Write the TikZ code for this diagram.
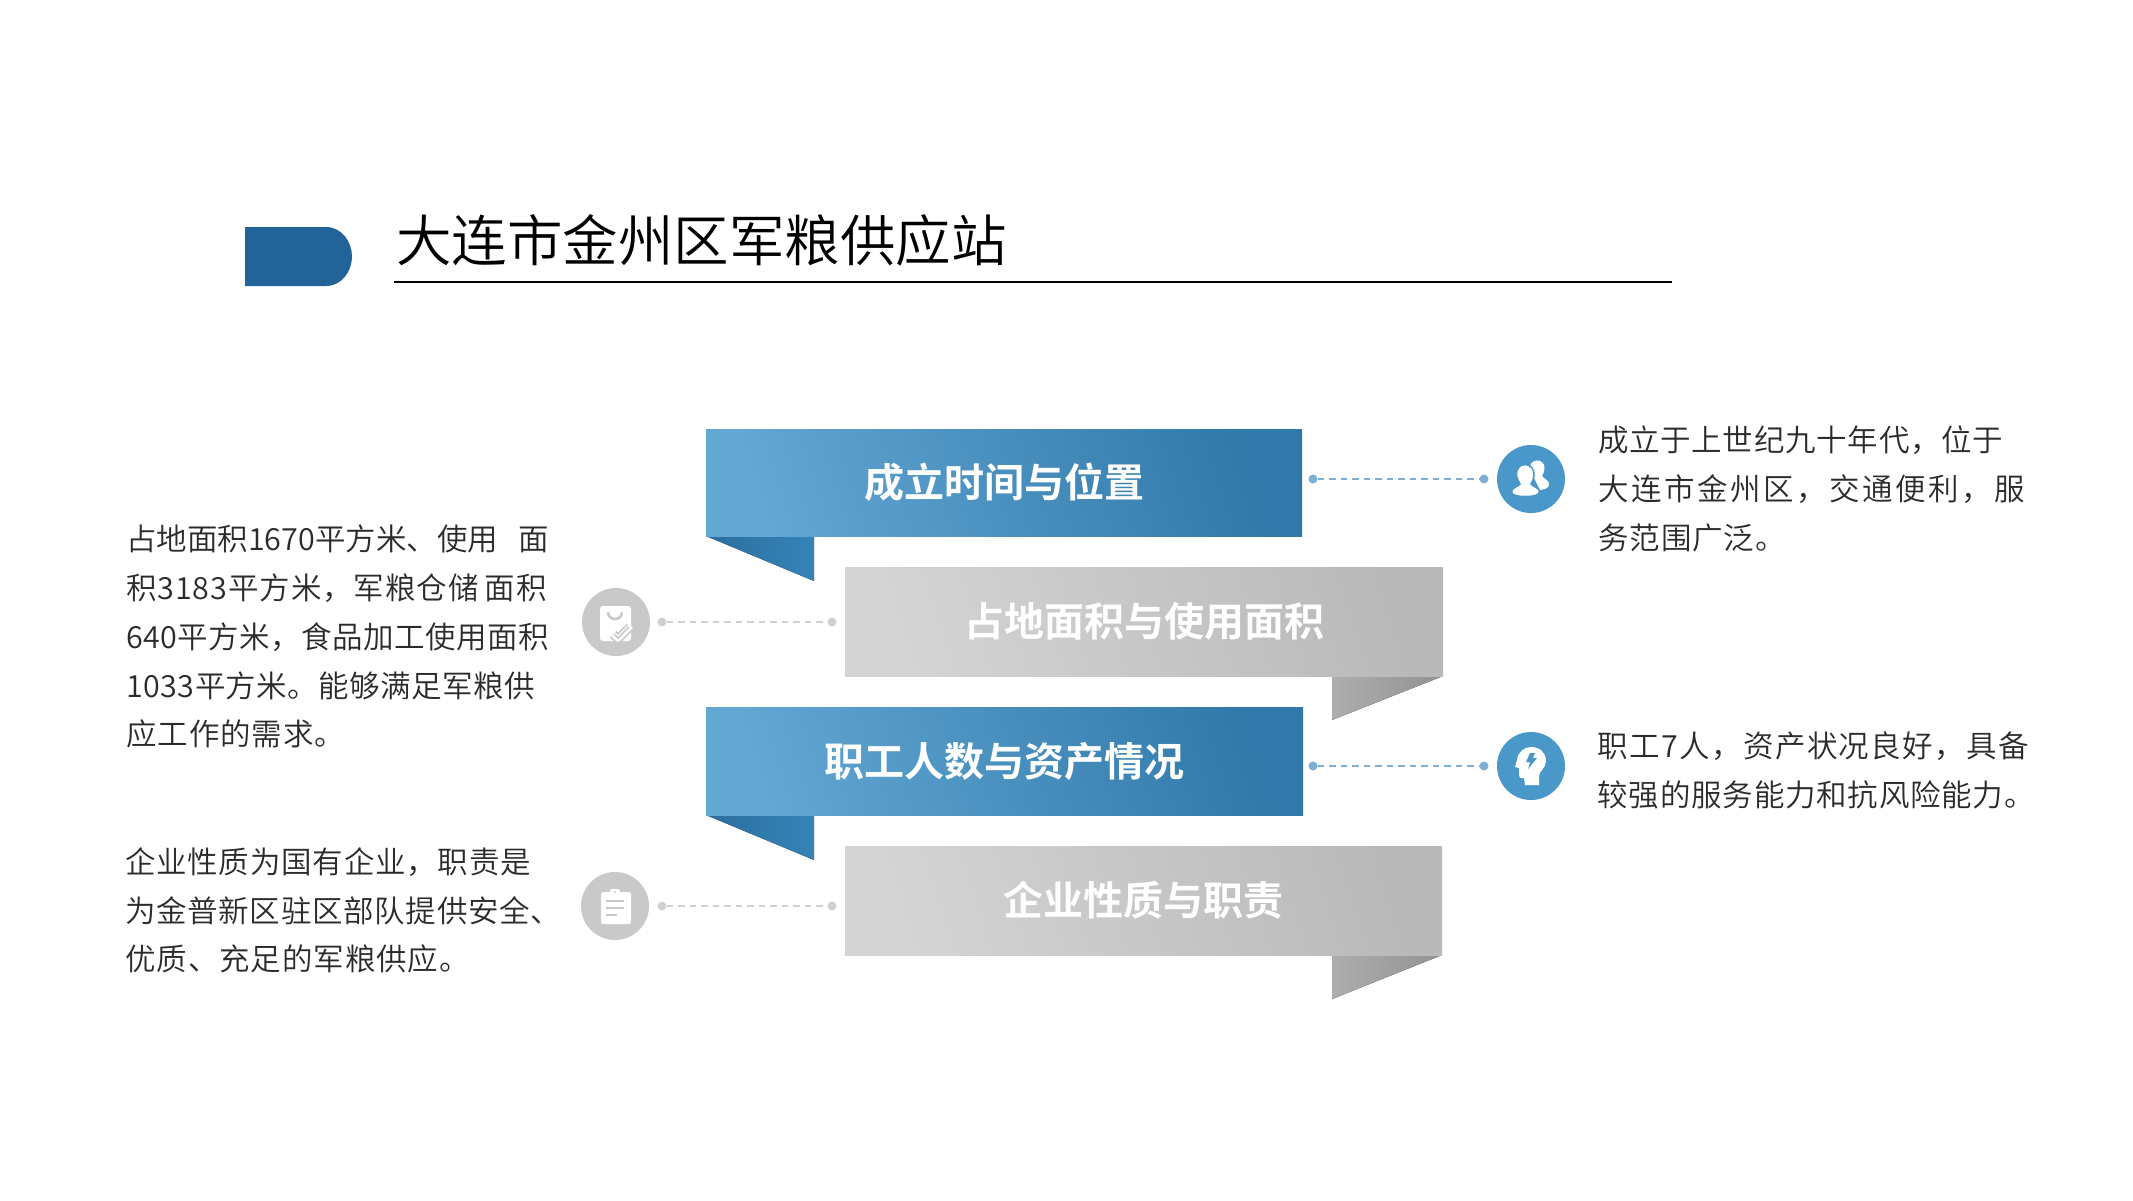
\documentclass[tikz,border=0pt]{standalone}
\usepackage{fontspec}
\newfontfamily\cjk{Noto Sans CJK SC DemiLight}
\newfontfamily\cjkb{Noto Sans CJK SC Bold}
\newcommand\lsp[2]{{\addfontfeature{LetterSpace=#1}#2}}
\definecolor{inkc}{HTML}{2B2B2B}
\definecolor{pillc}{HTML}{22639A}
\definecolor{blueL}{HTML}{63A7D3}
\definecolor{blueR}{HTML}{3079AA}
\definecolor{tailbL}{HTML}{2B6F9F}
\definecolor{tailbR}{HTML}{3683B7}
\definecolor{grayL}{HTML}{D4D4D4}
\definecolor{grayR}{HTML}{B9B9B9}
\definecolor{tailgL}{HTML}{AEAEAE}
\definecolor{tailgR}{HTML}{929292}
\definecolor{circB}{HTML}{4A97C9}
\definecolor{dotB}{HTML}{7CAFD3}
\definecolor{circG}{HTML}{C9C9C9}
\definecolor{dotG}{HTML}{D0D0D0}
\tikzset{
  x=1pt,y=-1pt,
  bodytext/.style={inner sep=0pt,anchor=north west,align=left,text=inkc,font=\fontsize{30.5}{48.7}\selectfont\cjk},
  ribbonblue/.style={inner sep=0pt,text=white,font=\fontsize{40}{48}\selectfont\cjkb,left color=blueL,right color=blueR,shading angle=108},
  ribbongray/.style={inner sep=0pt,text=white,font=\fontsize{40}{48}\selectfont\cjkb,left color=grayL,right color=grayR,shading angle=108},
  tailblue/.style={left color=tailbL,right color=tailbR},
  tailgray/.style={left color=tailgL,right color=tailgR},
  dotblue/.style={circle,inner sep=0pt,minimum size=9pt,fill=dotB},
  dotgray/.style={circle,inner sep=0pt,minimum size=9pt,fill=dotG},
  linkblue/.style={draw=dotB,line width=1.6pt,dash pattern=on 6.5pt off 5pt},
  linkgray/.style={draw=dotG,line width=1.6pt,dash pattern=on 6.5pt off 5pt},
  iconblue/.style={circle,inner sep=0pt,minimum size=68pt,fill=circB},
  icongray/.style={circle,inner sep=0pt,minimum size=68pt,fill=circG},
}
\begin{document}
\begin{tikzpicture}
\useasboundingbox (0,0) rectangle (2133,1200);
\fill[white] (0,0) rectangle (2133,1200);
% title
\fill[pillc] (245,227) -- (326,227) .. controls (342,227) and (352,242) .. (352,256.5) .. controls (352,271) and (342,286) .. (326,286) -- (245,286) -- cycle;
\node[inner sep=0pt,anchor=west,text=black,font=\fontsize{55.5}{66}\selectfont\cjk] (title) at (396,240) {大连市金州区军粮供应站};
\coordinate (ruleA) at (394,282);
\coordinate (ruleB) at (1672,282);
\draw[black,line width=1.7pt] (ruleA) -- (ruleB);
% tails
\fill[tailblue] (706,536) -- (814,536) -- (814,581) -- cycle;
\fill[tailgray] (1332,676) -- (1443,676) -- (1332,720) -- cycle;
\fill[tailblue] (706,815) -- (814,815) -- (814,860) -- cycle;
\fill[tailgray] (1332,955) -- (1442,955) -- (1332,999) -- cycle;
% ribbons
\node[ribbonblue,minimum width=596pt,minimum height=107pt] (r1) at (1004,482.5) {\raisebox{1pt}{成立时间与位置}};
\node[ribbongray,minimum width=598pt,minimum height=109pt] (r2) at (1144,621.5) {\raisebox{1pt}{占地面积与使用面积}};
\node[ribbonblue,minimum width=597pt,minimum height=108pt] (r3) at (1004.5,761) {\raisebox{1pt}{职工人数与资产情况}};
\node[ribbongray,minimum width=597pt,minimum height=109pt] (r4) at (1143.5,900.5) {\raisebox{1pt}{企业性质与职责}};
% dots and links
\node[dotblue] (d1a) at (1313,479) {};
\node[dotblue] (d1b) at (1484,479) {};
\draw[linkblue] (d1a) -- (d1b);
\node[dotgray] (d2a) at (662,622) {};
\node[dotgray] (d2b) at (832,622) {};
\draw[linkgray] (d2a) -- (d2b);
\node[dotblue] (d3a) at (1313,766) {};
\node[dotblue] (d3b) at (1484,766) {};
\draw[linkblue] (d3a) -- (d3b);
\node[dotgray] (d4a) at (662,906) {};
\node[dotgray] (d4b) at (832,906) {};
\draw[linkgray] (d4a) -- (d4b);
% icon circles
\node[iconblue] (c1) at (1531,479) {};
\node[icongray] (c2) at (616,622) {};
\node[iconblue] (c3) at (1531,766) {};
\node[icongray] (c4) at (615,906) {};
% people icon
\fill[white] (1537,460.5) .. controls (1532,460.5) and (1529,465) .. (1530,470) -- (1540,490) .. controls (1546,489) and (1549,488) .. (1549,484) .. controls (1549,480) and (1543,478) .. (1542,476) .. controls (1544,472) and (1545,470) .. (1544.5,467) .. controls (1544,463) and (1541,460.5) .. (1537,460.5) -- cycle;
\fill[white,draw=circB,line width=1.5pt] (1525,464.5) .. controls (1519,464.5) and (1516,470) .. (1516.5,475) .. controls (1517,479) and (1519,482) .. (1520,484) .. controls (1519,486) and (1511,488) .. (1511.5,492) .. controls (1512,495.5) and (1518,496.5) .. (1526,496.5) .. controls (1534,496.5) and (1539,495) .. (1539.5,492) .. controls (1540,488) and (1532,486) .. (1531,484) .. controls (1532,482) and (1534,479) .. (1534,475) .. controls (1534.5,470) and (1531,464.5) .. (1525,464.5) -- cycle;
% head icon
\fill[white] (1525,785) -- (1524,778) -- (1521,778) .. controls (1519,778) and (1519,775) .. (1519,768) -- (1515,767) -- (1517,760) .. controls (1518,752) and (1524,747) .. (1531,747) .. controls (1540,747) and (1546,753) .. (1546,761) .. controls (1546,768) and (1539,771) .. (1539,776) -- (1539,785) -- cycle;
\fill[circB] (1530,753) -- (1526,762) -- (1530,762) -- (1528,769) -- (1537,758) -- (1533,758) -- (1535,753) -- cycle;
% bag-check icon
\fill[white,rounded corners=3pt] (600,606) rectangle (631,641);
\draw[circG,line width=2.6pt,line cap=round] (608,613) .. controls (609,621) and (621,621) .. (622,613);
\draw[circG,line width=9pt,line join=round] (613,634) -- (618,639) -- (630,627);
\draw[white,line width=5.5pt,line join=round] (613,634) -- (618,639) -- (631,626);
\draw[circG,line width=1.6pt] (614,634) -- (618,638) -- (629,627);
% clipboard icon
\fill[white,rounded corners=2pt] (601,892) rectangle (631,924);
\fill[white,rounded corners=1.5pt] (610,889) rectangle (620,895);
\fill[circG] (615,892) circle (1.2pt);
\draw[circG,line width=2pt] (606,901) -- (624,901) (606,908) -- (624,908) (606,915) -- (617,915);
% side texts
\node[bodytext] (tL1) at (126,525) {占地面积1670平方米、使用\hspace{20pt}面\\\lsp{3}{积3183平方米，军粮仓储}\hspace{6pt}\lsp{3}{面积}\\\lsp{1.5}{640平方米，食品加工使用面积}\\\lsp{1.5}{1033平方米。能够满足军粮供}\\\lsp{3}{应工作的需求。}};
\node[bodytext] (tL2) at (125,847.5) {\lsp{2.5}{企业性质为国有企业，职责是}\\\lsp{2.3}{为金普新区驻区部队提供安全、}\\\lsp{3}{优质、充足的军粮供应。}};
\node[bodytext] (tR1) at (1598,426) {\lsp{2.3}{成立于上世纪九十年代，位于}\\\lsp{8.4}{大连市金州区，交通便利，服}\\\lsp{3}{务范围广泛。}};
\node[bodytext] (tR2) at (1597.5,731.5) {\lsp{4.5}{职工7人，资产状况良好，具备}\\\lsp{2.5}{较强的服务能力和抗风险能力。}};
\end{tikzpicture}
\end{document}
